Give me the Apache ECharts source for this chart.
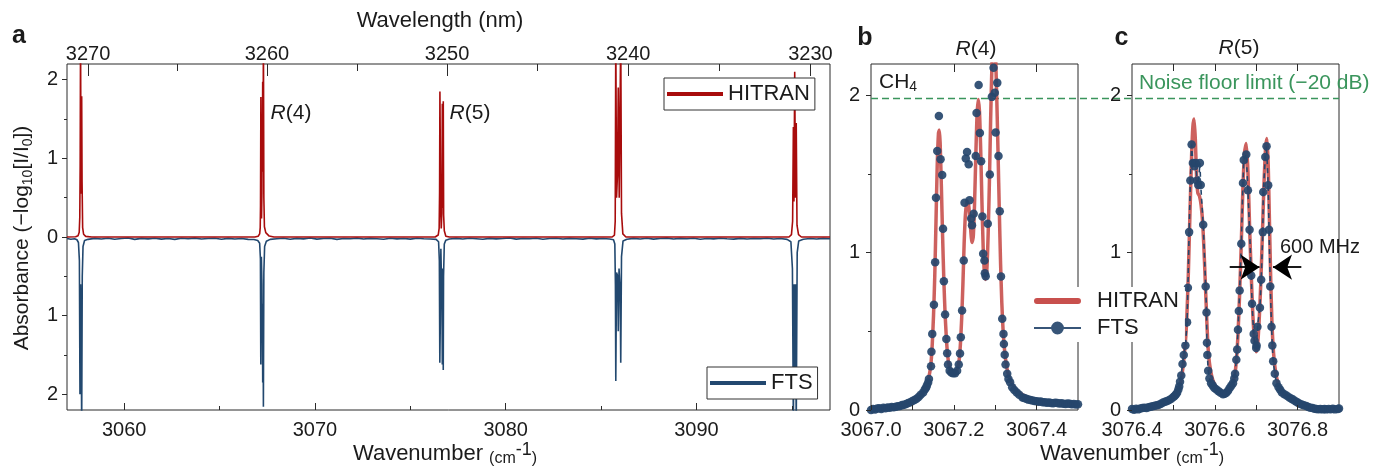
<!DOCTYPE html>
<html>
<head>
<meta charset="utf-8">
<script src="https://cdn.jsdelivr.net/npm/echarts@6.0.0/dist/echarts.min.js"></script>
<style>
  html, body { margin: 0; padding: 0; background: #fff; }
  #chart { width: 1380px; height: 466px; }
</style>
</head>
<body>
<div id="chart"></div>
<script>
// ---- survey spectra, panel a: [wavenumber (cm-1), absorbance] ----
const hitranSurvey = [
  [3057.00,0.000],[3057.45,0.003],[3057.58,0.015],[3057.64,0.060],[3057.67,0.250],[3057.69,0.900],[3057.71,2.600],
  [3057.73,1.100],[3057.75,0.550],[3057.77,1.790],[3057.79,0.700],[3057.82,0.120],[3057.87,0.035],[3057.98,0.008],
  [3058.30,0.000],[3060.78,0.000],[3060.83,0.014],[3060.88,0.000],[3061.86,0.000],[3061.91,0.011],[3061.96,0.000],
  [3062.98,0.000],[3063.03,0.013],[3063.08,0.000],[3066.85,0.000],[3067.02,0.010],[3067.10,0.040],[3067.13,0.120],
  [3067.145,0.400],[3067.164,1.780],[3067.185,0.350],[3067.199,0.235],[3067.218,0.550],[3067.232,1.330],[3067.244,1.065],
  [3067.259,1.975],[3067.277,0.830],[3067.297,2.600],[3067.320,0.500],[3067.350,0.130],[3067.420,0.055],[3067.600,0.012],
  [3067.850,0.000],[3071.10,0.000],[3071.15,0.010],[3071.20,0.000],[3076.30,0.000],[3076.46,0.025],[3076.51,0.110],
  [3076.532,0.560],[3076.550,1.850],[3076.565,1.330],[3076.583,0.430],[3076.620,0.108],[3076.652,0.310],[3076.676,1.694],
  [3076.700,0.370],[3076.726,1.726],[3076.745,0.280],[3076.780,0.080],[3076.860,0.010],[3077.050,0.000],[3085.58,0.000],
  [3085.70,0.025],[3085.74,0.200],[3085.77,2.600],[3085.81,0.500],[3085.86,0.800],[3085.90,1.900],[3085.95,0.500],
  [3086.03,2.600],[3086.07,0.300],[3086.14,0.040],[3086.30,0.000],[3094.85,0.000],[3094.98,0.030],[3095.04,0.200],
  [3095.08,1.400],[3095.11,0.450],[3095.15,2.100],[3095.19,0.500],[3095.23,1.450],[3095.27,0.150],[3095.35,0.030],
  [3095.50,0.000],[3097.00,0.000]
];
const ftsSurvey = [
  [3057.00,0.020],[3057.20,0.028],[3057.40,0.022],[3057.52,0.035],[3057.60,0.070],[3057.65,0.300],[3057.68,2.000],
  [3057.71,0.600],[3057.74,1.100],[3057.77,2.400],[3057.80,0.500],[3057.84,0.120],[3057.92,0.045],[3058.10,0.030],
  [3058.45,0.018],[3058.80,0.026],[3059.15,0.015],[3059.50,0.028],[3059.85,0.020],[3060.20,0.012],[3060.55,0.030],
  [3060.90,0.018],[3061.25,0.024],[3061.60,0.015],[3061.95,0.027],[3062.30,0.019],[3062.65,0.030],[3063.00,0.016],
  [3063.35,0.022],[3063.70,0.014],[3064.05,0.026],[3064.40,0.020],[3064.75,0.015],[3065.10,0.028],[3065.45,0.018],
  [3065.80,0.025],[3066.15,0.020],[3066.50,0.030],[3066.80,0.032],[3067.00,0.045],[3067.10,0.080],[3067.14,0.280],
  [3067.16,1.620],[3067.19,0.250],[3067.22,0.600],[3067.235,1.300],[3067.245,1.000],[3067.26,1.850],[3067.277,0.850],
  [3067.296,2.160],[3067.32,0.450],[3067.36,0.120],[3067.45,0.055],[3067.65,0.030],[3068.00,0.022],[3068.35,0.015],
  [3068.70,0.028],[3069.05,0.018],[3069.40,0.024],[3069.75,0.013],[3070.10,0.027],[3070.45,0.020],[3070.80,0.016],
  [3071.15,0.030],[3071.50,0.019],[3071.85,0.023],[3072.20,0.014],[3072.55,0.026],[3072.90,0.018],[3073.25,0.022],
  [3073.60,0.028],[3073.95,0.015],[3074.30,0.024],[3074.65,0.019],[3075.00,0.027],[3075.35,0.016],[3075.70,0.022],
  [3076.05,0.026],[3076.35,0.030],[3076.48,0.060],[3076.52,0.300],[3076.545,1.600],[3076.57,1.100],[3076.60,0.150],
  [3076.64,0.170],[3076.66,0.900],[3076.676,1.620],[3076.69,0.650],[3076.70,0.400],[3076.712,0.850],[3076.725,1.690],
  [3076.74,0.500],[3076.78,0.090],[3076.86,0.040],[3077.05,0.025],[3077.40,0.018],[3077.75,0.026],[3078.10,0.015],
  [3078.45,0.022],[3078.80,0.029],[3079.15,0.017],[3079.50,0.024],[3079.85,0.020],[3080.20,0.013],[3080.55,0.027],
  [3080.90,0.019],[3081.25,0.023],[3081.60,0.016],[3081.95,0.028],[3082.30,0.020],[3082.65,0.015],[3083.00,0.025],
  [3083.35,0.018],[3083.70,0.022],[3084.05,0.027],[3084.40,0.016],[3084.75,0.024],[3085.10,0.019],[3085.45,0.026],
  [3085.65,0.035],[3085.72,0.090],[3085.75,0.600],[3085.77,1.830],[3085.81,0.450],[3085.87,0.500],[3085.90,1.200],
  [3085.94,0.400],[3086.00,0.700],[3086.03,1.600],[3086.07,0.250],[3086.15,0.050],[3086.35,0.028],[3086.70,0.018],
  [3087.05,0.025],[3087.40,0.015],[3087.75,0.027],[3088.10,0.020],[3088.45,0.014],[3088.80,0.026],[3089.15,0.018],
  [3089.50,0.023],[3089.85,0.016],[3090.20,0.028],[3090.55,0.019],[3090.90,0.024],[3091.25,0.015],[3091.60,0.022],
  [3091.95,0.027],[3092.30,0.017],[3092.65,0.025],[3093.00,0.019],[3093.35,0.023],[3093.70,0.016],[3094.05,0.026],
  [3094.40,0.020],[3094.75,0.030],[3094.95,0.060],[3095.03,0.400],[3095.08,2.400],[3095.12,0.600],[3095.15,1.900],
  [3095.19,0.600],[3095.23,2.400],[3095.28,0.200],[3095.36,0.050],[3095.60,0.028],[3095.95,0.020],[3096.30,0.026],
  [3096.65,0.017],[3097.00,0.022]
];

// ---- R(4) manifold, panel b ----
const r4Hitran = [
  [3067.000,0.015],[3067.030,0.020],[3067.060,0.028],[3067.080,0.038],[3067.095,0.050],[3067.105,0.062],[3067.115,0.080],
  [3067.122,0.100],[3067.128,0.125],[3067.133,0.150],[3067.138,0.190],[3067.142,0.240],[3067.145,0.300],[3067.148,0.420],
  [3067.151,0.600],[3067.154,0.850],[3067.157,1.200],[3067.160,1.560],[3067.163,1.760],[3067.165,1.780],[3067.167,1.700],
  [3067.170,1.420],[3067.173,1.100],[3067.176,0.820],[3067.179,0.610],[3067.182,0.460],[3067.185,0.350],[3067.189,0.280],
  [3067.194,0.245],[3067.199,0.235],[3067.204,0.240],[3067.209,0.265],[3067.213,0.320],[3067.216,0.420],[3067.219,0.580],
  [3067.222,0.800],[3067.225,1.060],[3067.228,1.240],[3067.232,1.330],[3067.236,1.300],[3067.240,1.170],[3067.244,1.065],
  [3067.247,1.100],[3067.250,1.300],[3067.253,1.600],[3067.256,1.870],[3067.259,1.975],[3067.262,1.900],[3067.265,1.650],
  [3067.268,1.320],[3067.271,1.030],[3067.274,0.870],[3067.277,0.830],[3067.280,0.900],[3067.283,1.120],[3067.286,1.450],
  [3067.289,1.850],[3067.292,2.180],[3067.295,2.380],[3067.298,2.400],[3067.301,2.250],[3067.304,1.960],[3067.307,1.620],
  [3067.310,1.260],[3067.313,0.930],[3067.316,0.680],[3067.319,0.510],[3067.323,0.370],[3067.328,0.270],[3067.334,0.205],
  [3067.342,0.160],[3067.352,0.125],[3067.365,0.098],[3067.380,0.080],[3067.400,0.066],[3067.430,0.055],[3067.460,0.048],
  [3067.500,0.042]
];
const r4Fts = [
  [3067.000,0.000],[3067.005,0.006],[3067.010,0.003],[3067.015,0.009],[3067.020,0.011],[3067.025,0.007],[3067.030,0.014],
  [3067.035,0.011],[3067.040,0.016],[3067.045,0.014],[3067.050,0.019],[3067.055,0.017],[3067.060,0.021],[3067.065,0.024],
  [3067.070,0.026],[3067.075,0.031],[3067.080,0.034],[3067.085,0.038],[3067.090,0.044],[3067.095,0.050],[3067.100,0.057],
  [3067.105,0.064],[3067.110,0.072],[3067.115,0.083],[3067.120,0.097],[3067.126,0.112],[3067.130,0.130],[3067.133,0.142],
  [3067.135,0.155],[3067.138,0.175],[3067.140,0.197],[3067.145,0.278],[3067.146,0.371],[3067.148,0.484],[3067.152,0.669],
  [3067.155,0.940],[3067.157,1.350],[3067.160,1.647],[3067.164,1.870],[3067.168,1.594],[3067.172,1.494],[3067.174,1.153],
  [3067.176,0.819],[3067.179,0.607],[3067.182,0.452],[3067.184,0.361],[3067.186,0.290],[3067.190,0.250],[3067.194,0.238],
  [3067.198,0.233],[3067.203,0.233],[3067.208,0.250],[3067.212,0.290],[3067.215,0.360],[3067.217,0.463],[3067.220,0.633],
  [3067.224,0.951],[3067.226,1.318],[3067.229,1.599],[3067.232,1.641],[3067.236,1.562],[3067.238,1.333],[3067.242,1.217],
  [3067.244,1.175],[3067.248,1.248],[3067.253,1.615],[3067.255,1.889],[3067.260,2.066],[3067.263,1.762],[3067.266,1.581],
  [3067.269,1.231],[3067.271,0.994],[3067.274,0.951],[3067.275,0.870],[3067.277,0.850],[3067.282,1.185],[3067.287,1.497],
  [3067.292,1.991],[3067.296,2.176],[3067.299,2.017],[3067.301,1.764],[3067.305,2.080],[3067.308,1.615],[3067.311,1.263],
  [3067.314,0.849],[3067.317,0.580],[3067.320,0.484],[3067.321,0.420],[3067.323,0.352],[3067.325,0.290],[3067.329,0.230],
  [3067.332,0.197],[3067.336,0.176],[3067.341,0.144],[3067.346,0.127],[3067.352,0.112],[3067.358,0.097],[3067.366,0.080],
  [3067.370,0.076],[3067.375,0.072],[3067.380,0.066],[3067.385,0.064],[3067.390,0.060],[3067.395,0.057],[3067.400,0.055],
  [3067.405,0.052],[3067.410,0.054],[3067.415,0.050],[3067.420,0.049],[3067.425,0.046],[3067.430,0.048],[3067.435,0.045],
  [3067.440,0.043],[3067.445,0.046],[3067.450,0.044],[3067.455,0.041],[3067.460,0.043],[3067.465,0.040],[3067.470,0.038],
  [3067.475,0.041],[3067.480,0.039],[3067.485,0.036],[3067.490,0.038],[3067.495,0.035],[3067.500,0.037]
];

// ---- R(5) manifold, panel c ----
const r5Hitran = [
  [3076.400,0.004],[3076.430,0.012],[3076.460,0.028],[3076.480,0.048],[3076.495,0.068],[3076.505,0.092],[3076.512,0.125],
  [3076.518,0.180],[3076.523,0.270],[3076.528,0.400],[3076.532,0.560],[3076.536,0.860],[3076.540,1.250],[3076.544,1.620],
  [3076.547,1.800],[3076.550,1.850],[3076.553,1.720],[3076.556,1.480],[3076.559,1.380],[3076.563,1.360],[3076.567,1.300],
  [3076.571,1.180],[3076.575,0.950],[3076.579,0.680],[3076.583,0.430],[3076.587,0.300],[3076.593,0.210],[3076.600,0.160],
  [3076.610,0.125],[3076.620,0.108],[3076.628,0.112],[3076.636,0.135],[3076.643,0.170],[3076.648,0.220],[3076.652,0.310],
  [3076.656,0.480],[3076.660,0.740],[3076.664,1.060],[3076.668,1.420],[3076.672,1.640],[3076.676,1.694],[3076.680,1.520],
  [3076.684,1.170],[3076.688,0.860],[3076.692,0.600],[3076.696,0.440],[3076.700,0.370],[3076.703,0.400],[3076.707,0.560],
  [3076.711,0.800],[3076.715,1.120],[3076.719,1.450],[3076.723,1.680],[3076.726,1.726],[3076.729,1.560],[3076.732,1.200],
  [3076.735,0.840],[3076.738,0.560],[3076.742,0.360],[3076.747,0.240],[3076.753,0.170],[3076.762,0.120],[3076.775,0.090],
  [3076.790,0.065],[3076.805,0.042],[3076.825,0.022],[3076.850,0.009],[3076.900,0.005]
];
const r5Fts = [
  [3076.400,0.006],[3076.405,0.002],[3076.410,0.008],[3076.415,0.004],[3076.420,0.010],[3076.425,0.012],[3076.430,0.015],
  [3076.435,0.012],[3076.440,0.018],[3076.445,0.020],[3076.450,0.024],[3076.455,0.027],[3076.460,0.030],[3076.465,0.034],
  [3076.470,0.040],[3076.475,0.047],[3076.480,0.052],[3076.485,0.058],[3076.490,0.064],[3076.495,0.072],[3076.500,0.082],
  [3076.503,0.089],[3076.506,0.098],[3076.509,0.110],[3076.512,0.130],[3076.514,0.150],[3076.516,0.180],[3076.519,0.220],
  [3076.522,0.293],[3076.525,0.350],[3076.529,0.410],[3076.533,0.558],[3076.535,0.777],[3076.538,1.131],[3076.541,1.460],
  [3076.544,1.688],[3076.547,1.570],[3076.551,1.550],[3076.554,1.570],[3076.557,1.460],[3076.560,1.430],[3076.564,1.570],
  [3076.566,1.430],[3076.572,1.178],[3076.578,0.785],[3076.580,0.620],[3076.581,0.427],[3076.582,0.350],[3076.584,0.250],
  [3076.587,0.200],[3076.591,0.170],[3076.595,0.155],[3076.599,0.140],[3076.604,0.130],[3076.609,0.120],[3076.614,0.110],
  [3076.620,0.100],[3076.624,0.104],[3076.628,0.110],[3076.632,0.122],[3076.636,0.140],[3076.640,0.155],[3076.644,0.170],
  [3076.647,0.200],[3076.649,0.230],[3076.652,0.320],[3076.654,0.385],[3076.656,0.510],[3076.658,0.630],[3076.660,0.760],
  [3076.664,1.057],[3076.668,1.443],[3076.670,1.590],[3076.676,1.624],[3076.680,1.397],[3076.684,1.146],[3076.688,0.855],
  [3076.690,0.675],[3076.694,0.484],[3076.696,0.440],[3076.700,0.395],[3076.701,0.410],[3076.703,0.530],[3076.709,0.650],
  [3076.712,0.828],[3076.716,1.131],[3076.717,1.386],[3076.722,1.609],[3076.725,1.677],[3076.729,1.429],[3076.731,1.146],
  [3076.734,0.785],[3076.737,0.530],[3076.739,0.410],[3076.741,0.310],[3076.745,0.230],[3076.749,0.170],[3076.754,0.145],
  [3076.758,0.128],[3076.762,0.112],[3076.768,0.100],[3076.774,0.090],[3076.780,0.080],[3076.785,0.072],[3076.789,0.066],
  [3076.795,0.055],[3076.800,0.047],[3076.805,0.040],[3076.810,0.035],[3076.815,0.030],[3076.821,0.025],[3076.826,0.019],
  [3076.831,0.014],[3076.836,0.012],[3076.841,0.008],[3076.845,0.006],[3076.850,0.005],[3076.855,0.007],[3076.860,0.004],
  [3076.865,0.006],[3076.869,0.004],[3076.875,0.007],[3076.880,0.005],[3076.885,0.008],[3076.890,0.004],[3076.897,0.006],
  [3076.900,0.009]
];

// detection limit and the 600 MHz spacing marker (data coordinates of panel c)
const noiseFloor = 1.98;
const spacingArrows = [
  [[3076.636, 0.908], [3076.708, 0.908]],
  [[3076.809, 0.908], [3076.7406, 0.908]]
];

// ---- tick positions ----
const surveyMajor = [3060, 3070, 3080, 3090];
const surveyMinor = [3065, 3075, 3085, 3095];
const wavelengthMajor = [3270, 3260, 3250, 3240, 3230];   // nm
const wavelengthMinor = [3265, 3255, 3245, 3235];
const absMajor = [-2, -1, 0, 1, 2];
const absMinor = [-1.5, -0.5, 0.5, 1.5];
const zoomAbsMajor = [0, 1, 2];
const zoomAbsMinor = [0.5, 1.5];
const r4Ticks = [3067.0, 3067.1, 3067.2, 3067.3, 3067.4];
const r4Labels = [3067.0, 3067.2, 3067.4];
const r4TopTicks = [3067.2, 3067.4];
const r5Ticks = [3076.5, 3076.6, 3076.7, 3076.8];
const r5Labels = [3076.4, 3076.6, 3076.8];
const r5TopTicks = [3076.5, 3076.6, 3076.7, 3076.8];

const FONT = 'Liberation Sans';
const INK = '#1b1b1b';
const FRAME = '#2b2b2b';
const RED_SURVEY = '#a80c0c';
const BLUE_SURVEY = '#22486f';
const RED_PROFILE = '#c8504d';
const BLUE_POINTS = '#26476c';
const GREEN = '#3a955c';

const toWn = nm => 1e7 / nm;

function axis(o) {
  return {
    type: 'value', gridIndex: o.grid, position: o.pos, min: o.min, max: o.max,
    axisLine: { show: false, onZero: false },
    splitLine: { show: false },
    axisTick: o.ticks ? {
      show: true, inside: !!o.inside, length: o.len, customValues: o.ticks,
      lineStyle: { color: FRAME, width: 1 }
    } : { show: false },
    axisLabel: o.labels ? {
      show: true, customValues: o.labels, formatter: o.fmt, margin: o.margin,
      fontSize: 20, fontFamily: FONT, color: INK, padding: o.pad || 0
    } : { show: false },
    z: 5
  };
}

const gridBox = { show: true, borderColor: FRAME, borderWidth: 1, backgroundColor: 'transparent' };

const xAxes = [
  axis({ grid: 0, pos: 'bottom', min: 3057, max: 3097, ticks: surveyMajor, inside: true, len: 7,
         labels: surveyMajor, fmt: v => String(v), margin: 10 }),
  axis({ grid: 0, pos: 'bottom', min: 3057, max: 3097, ticks: surveyMinor, inside: true, len: 4 }),
  axis({ grid: 0, pos: 'top', min: 3057, max: 3097, ticks: wavelengthMajor.map(toWn), inside: true, len: 12,
         labels: wavelengthMajor.map(toWn), fmt: v => String(Math.round(1e7 / v)), margin: 0 }),
  axis({ grid: 0, pos: 'top', min: 3057, max: 3097, ticks: wavelengthMinor.map(toWn), inside: true, len: 7 }),
  axis({ grid: 1, pos: 'bottom', min: 3067.0, max: 3067.5, ticks: r4Ticks, inside: true, len: 5,
         labels: r4Labels, fmt: v => v.toFixed(1), margin: 10 }),
  axis({ grid: 1, pos: 'top', min: 3067.0, max: 3067.5, ticks: r4TopTicks, inside: true, len: 8 }),
  axis({ grid: 2, pos: 'bottom', min: 3076.4, max: 3076.9, ticks: r5Ticks, inside: true, len: 5,
         labels: r5Labels, fmt: v => v.toFixed(1), margin: 10 }),
  axis({ grid: 2, pos: 'top', min: 3076.4, max: 3076.9, ticks: r5TopTicks, inside: true, len: 7 }),
  { type: 'value', gridIndex: 3, min: 0, max: 1, show: false }
];

const yAxes = [
  axis({ grid: 0, pos: 'left', min: -2.2, max: 2.2, ticks: absMajor, len: 5,
         labels: absMajor, fmt: v => String(Math.abs(v)), margin: 9 }),
  axis({ grid: 0, pos: 'left', min: -2.2, max: 2.2, ticks: absMinor, len: 3 }),
  axis({ grid: 1, pos: 'left', min: 0, max: 2.2, ticks: zoomAbsMajor, len: 5,
         labels: zoomAbsMajor, fmt: v => String(v), margin: 11, pad: [0, 0, 14, 0] }),
  axis({ grid: 1, pos: 'left', min: 0, max: 2.2, ticks: zoomAbsMinor, len: 3 }),
  axis({ grid: 2, pos: 'left', min: 0, max: 2.2, ticks: zoomAbsMajor, len: 5,
         labels: zoomAbsMajor, fmt: v => String(v), margin: 11, pad: [0, 0, 14, 0] }),
  axis({ grid: 2, pos: 'left', min: 0, max: 2.2, ticks: zoomAbsMinor, len: 3 }),
  { type: 'value', gridIndex: 3, min: 0, max: 2.2, show: false }
];

const hitranIcon = 'path://M0,0h0.01v0.01h-0.01Z M46.99,11.99h0.01v0.01h-0.01Z M3,3H44A3,3,0,0,1,44,9H3A3,3,0,0,1,3,3Z';
const ftsIcon = 'path://M0,4.9H47V7.1H0Z M23.5,-0.4A6.4,6.4,0,1,1,23.49,-0.4Z';

const boxedLegend = (name, left, top) => ({
  data: [name], left, top, icon: 'rect', itemWidth: 56, itemHeight: 4,
  padding: [5, 5, 5, 3], borderColor: '#333', borderWidth: 1, borderRadius: 0,
  backgroundColor: '#fff', selectedMode: false,
  textStyle: { fontSize: 22, fontFamily: FONT, color: INK }
});

const wavenumberTitle = {
  text: '{w|Wavenumber }{p|(cm}{e|-1}{p|)}',
  rich: {
    w: { fontSize: 22, fontFamily: FONT, fill: INK, lineHeight: 26, verticalAlign: 'middle' },
    p: { fontSize: 16, fontFamily: FONT, fill: INK, lineHeight: 22, verticalAlign: 'bottom' },
    e: { fontSize: 18, fontFamily: FONT, fill: INK, lineHeight: 18, verticalAlign: 'top' }
  }
};

function label(x, y, style, extra) {
  return Object.assign({ type: 'text', x, y, silent: true, z: 20,
    style: Object.assign({ fontFamily: FONT, fill: INK, fontSize: 21, align: 'center', verticalAlign: 'middle' }, style) }, extra || {});
}

const italicR = { r: { fontStyle: 'italic', fontSize: 21, fontFamily: FONT, fill: INK } };

const option = {
  animation: false,
  backgroundColor: '#fff',
  grid: [
    Object.assign({ left: 67, top: 64, width: 763, height: 346 }, gridBox),
    Object.assign({ left: 871, top: 64, width: 207, height: 346 }, gridBox),
    Object.assign({ left: 1132, top: 64, width: 207, height: 346 }, gridBox),
    { left: 871, top: 64, width: 468, height: 346, show: false }
  ],
  xAxis: xAxes,
  yAxis: yAxes,
  legend: [
    boxedLegend('HITRAN', 664, 78),
    boxedLegend('FTS', 707, 367),
    {
      data: [
        { name: 'HITRAN profile', icon: hitranIcon, itemStyle: { color: RED_PROFILE } },
        { name: 'FTS samples', icon: ftsIcon, itemStyle: { color: BLUE_POINTS } }
      ],
      orient: 'vertical', left: 1031, top: 287, itemWidth: 47, itemHeight: 13, itemGap: 5,
      padding: [3, 6, 3, 3], backgroundColor: '#fff', selectedMode: false,
      formatter: n => n.split(' ')[0],
      textStyle: { fontSize: 22, fontFamily: FONT, color: INK, padding: [0, 0, 0, 11] }
    }
  ],
  series: [
    {
      name: 'FTS', type: 'line', xAxisIndex: 0, yAxisIndex: 0,
      data: ftsSurvey.map(p => [p[0], -p[1]]),
      symbol: 'none', lineStyle: { color: BLUE_SURVEY, width: 1.6 }, itemStyle: { color: BLUE_SURVEY }, z: 2
    },
    {
      name: 'HITRAN', type: 'line', xAxisIndex: 0, yAxisIndex: 0, data: hitranSurvey,
      symbol: 'none', lineStyle: { color: RED_SURVEY, width: 1.6 }, itemStyle: { color: RED_SURVEY }, z: 3
    },
    {
      name: 'HITRAN profile', type: 'line', xAxisIndex: 4, yAxisIndex: 2, data: r4Hitran,
      symbol: 'none', smooth: 0.2,
      lineStyle: { color: RED_PROFILE, width: 3.5, opacity: 0.9 }, itemStyle: { color: RED_PROFILE }, z: 2
    },
    {
      name: 'FTS samples', type: 'scatter', xAxisIndex: 4, yAxisIndex: 2, data: r4Fts,
      symbolSize: 8.5, itemStyle: { color: BLUE_POINTS, opacity: 0.92 }, z: 3
    },
    {
      name: 'HITRAN profile', type: 'line', xAxisIndex: 6, yAxisIndex: 4, data: r5Hitran,
      symbol: 'none', smooth: 0.2,
      lineStyle: { color: RED_PROFILE, width: 3.5, opacity: 0.9 }, itemStyle: { color: RED_PROFILE }, z: 2
    },
    {
      name: 'FTS samples', type: 'line', xAxisIndex: 6, yAxisIndex: 4, data: r5Fts,
      symbol: 'circle', symbolSize: 8.5, showSymbol: true,
      lineStyle: { color: BLUE_POINTS, width: 1.6, type: [5, 4] },
      itemStyle: { color: BLUE_POINTS, opacity: 0.92 }, z: 3,
      markLine: {
        silent: true, animation: false,
        symbol: ['none', 'arrow'], symbolSize: 19,
        label: { show: false },
        lineStyle: { color: '#000', width: 1.8, type: 'solid' },
        data: spacingArrows.map(([a, b]) => [{ coord: a }, { coord: b }])
      }
    },
    {
      name: 'noise floor', type: 'line', xAxisIndex: 8, yAxisIndex: 6,
      data: [[0, noiseFloor], [1, noiseFloor]], symbol: 'none', silent: true,
      lineStyle: { color: GREEN, width: 1.5, type: [7, 4] }, z: 1
    }
  ],
  graphic: { elements: [
    label(19, 36.3, { text: 'a', fontSize: 25, fontWeight: 'bold' }),
    label(865, 38, { text: 'b', fontSize: 25, fontWeight: 'bold' }),
    label(1121.5, 38, { text: 'c', fontSize: 25, fontWeight: 'bold' }),
    label(440, 21, { text: 'Wavelength (nm)', fontSize: 22 }),
    label(291, 113, { text: '{r|R}(4)', rich: italicR }),
    label(470, 113, { text: '{r|R}(5)', rich: italicR }),
    label(976, 49, { text: '{r|R}(4)', rich: italicR }),
    label(1239, 48, { text: '{r|R}(5)', rich: italicR }),
    label(879, 82.5, {
      text: '{n|CH}{s|4}', align: 'left',
      rich: {
        n: { fontSize: 21, fontFamily: FONT, fill: INK, lineHeight: 24, verticalAlign: 'middle' },
        s: { fontSize: 14, fontFamily: FONT, fill: INK, lineHeight: 14, verticalAlign: 'bottom' }
      }
    }),
    label(1139, 83, { text: 'Noise floor limit (\u221220 dB)', align: 'left', fill: GREEN }),
    label(1280, 247, { text: '600 MHz', align: 'left', fontSize: 20 }),
    label(445, 454, wavenumberTitle),
    label(1132, 454, wavenumberTitle),
    label(22, 238, {
      text: '{n|Absorbance (\u2212log}{s|10}{n|[I/I}{s|0}{n|])}',
      rich: {
        n: { fontSize: 21, fontFamily: FONT, fill: INK, lineHeight: 26, verticalAlign: 'middle' },
        s: { fontSize: 14, fontFamily: FONT, fill: INK, lineHeight: 14, verticalAlign: 'bottom' }
      }
    }, { rotation: Math.PI / 2 })
  ] }
};

const chart = echarts.init(document.getElementById('chart'), null, { renderer: 'canvas' });
chart.setOption(option);
</script>
</body>
</html>
